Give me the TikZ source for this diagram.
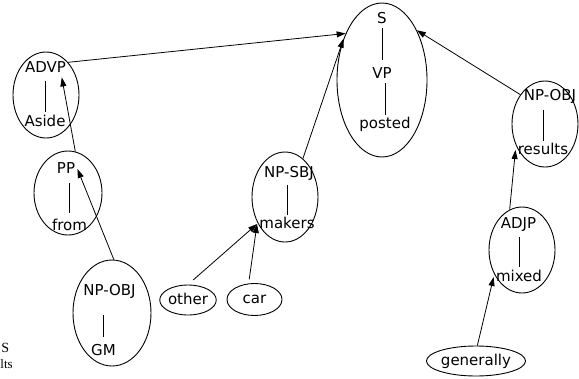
\documentclass[tikz,border=0pt]{standalone}
\usepackage{fontspec}
\setmainfont{DejaVu Sans}
\newfontfamily\serifface{Liberation Serif}
\usetikzlibrary{shapes.geometric,arrows.meta}
\tikzset{
  lbl/.style={font=\fontsize{15}{18}\selectfont, inner sep=2pt, text height=11pt, text depth=3pt},
  grp/.style={draw, ellipse, inner sep=0pt, line width=0.9pt},
  leaf/.style={grp, font=\fontsize{15}{18}\selectfont, text height=11pt, text depth=3pt}
}
\begin{document}
\begin{tikzpicture}[x=1pt,y=-1pt,>={Triangle[length=9pt,width=6pt]},line width=0.8pt]
\useasboundingbox (0,0) rectangle (579,378);
\foreach \n/\x/\y/\w/\h in {sE/382/80/90/154, advpE/46/95/66/86, ppE/68/193/68/84, gmE/112/313/78/106, sbjE/285/197/66/90, resE/545/124/66/86, adjpE/522/250/66/86}
{
    \node[grp, minimum width=\w pt, minimum height=\h pt] (\n) at (\x,\y) {};
}
\foreach \n/\t/\x/\y in {s/S/382/19, vp/VP/382/74, posted/posted/385/124, advp/ADVP/45.5/68, aside/Aside/45/122, pp/PP/66/169, frm/from/69.5/226, npobj/NP-OBJ/109.5/291, gm/GM/103.5/351, sbj/NP-SBJ/289/173, makers/makers/287/224, npobjr/NP-OBJ/550/96, results/results/543/150, adjp/ADJP/518.5/224, mixed/mixed/519/277}
{
    \node[lbl] (\n) at (\x,\y) {\t};
}
\foreach \a/\b/\p/\q in {s/vp/0pt/5pt, vp/posted/0pt/0pt, advp/aside/4pt/1pt, pp/frm/5pt/4pt, npobj/gm/15pt/5pt, sbj/makers/3pt/0pt, npobjr/results/5pt/0pt, adjp/mixed/4pt/1pt}
{
    \draw[shorten <=\p, shorten >=\q](\b.north |- \a.south)--(\b.north);
}
\node[leaf, minimum width=56pt, minimum height=30pt] (other) at (188,300) {other};
\node[leaf, minimum width=55pt, minimum height=32pt] (car) at (254.5,299.5) {car};
\node[leaf, minimum width=88pt, minimum height=30pt] (genl) at (476,361) {generally};
\draw[->](advpE.56)--(sE.128);
\draw[->](ppE.80)--(advp.-30);
\draw[->](gmE.88)--(pp.east);
\draw[->, shorten <=7pt](other.north)--(makers.west);
\draw[->, shorten <=4pt](car.110)--(makers.west);
\draw[->](sbjE.65)--(sE.133);
\draw[->](resE.130)--(sE.55);
\draw[->](adjpE.107)--(results.west);
\draw[->](genl.85)--(mixed.west);
\node[anchor=base west, inner sep=0pt, font=\serifface\fontsize{14}{16}\selectfont] (strayS) at (1,352) {S};
\node[anchor=base west, inner sep=0pt, font=\serifface\fontsize{13}{15}\selectfont] (strayL) at (0,368) {lts};
\end{tikzpicture}
\end{document}
